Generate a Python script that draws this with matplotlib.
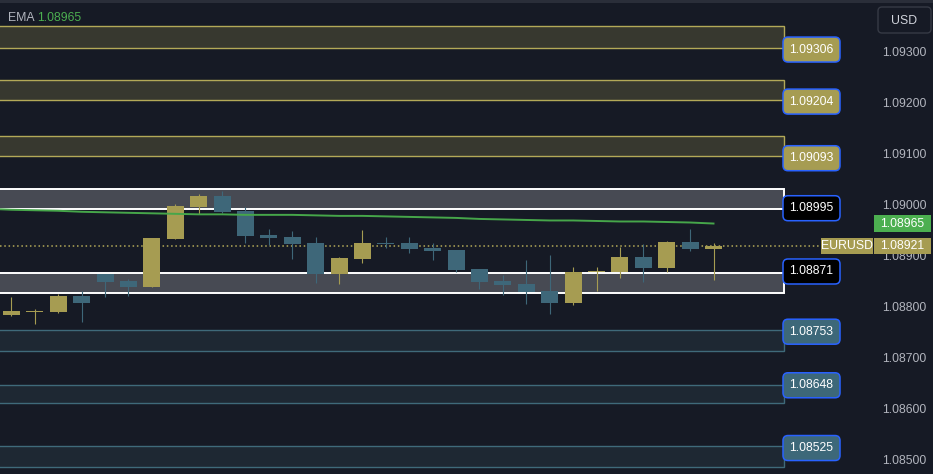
import matplotlib.pyplot as plt
from matplotlib.patches import Rectangle, FancyBboxPatch

# candle data
opens = [1.08786, 1.08792, 1.08792, 1.08823, 1.08866, 1.08852, 1.08841, 1.08935,
         1.08997, 1.09019, 1.08990, 1.08943, 1.08939, 1.08927, 1.08866, 1.08895,
         1.08927, 1.08927, 1.08917, 1.08913, 1.08876, 1.08852, 1.08846, 1.08833,
         1.08809, 1.08870, 1.08870, 1.08899, 1.08878, 1.08929, 1.08915]
highs = [1.08821, 1.08797, 1.08827, 1.08833, 1.08866, 1.08856, 1.08937, 1.09003,
         1.09023, 1.09029, 1.08997, 1.08954, 1.08950, 1.08939, 1.08899, 1.08952,
         1.08939, 1.08939, 1.08927, 1.08913, 1.08876, 1.08864, 1.08894, 1.08903,
         1.08880, 1.08880, 1.08919, 1.08925, 1.08931, 1.08954, 1.08927]
lows = [1.08784, 1.08768, 1.08790, 1.08772, 1.08821, 1.08823, 1.08841, 1.08935,
        1.08984, 1.08986, 1.08927, 1.08923, 1.08895, 1.08848, 1.08846, 1.08888,
        1.08917, 1.08907, 1.08894, 1.08870, 1.08837, 1.08825, 1.08807, 1.08788,
        1.08805, 1.08833, 1.08858, 1.08850, 1.08870, 1.08911, 1.08854]
closes = [1.08794, 1.08794, 1.08823, 1.08809, 1.08850, 1.08841, 1.08937, 1.08999,
          1.09019, 1.08988, 1.08941, 1.08937, 1.08925, 1.08866, 1.08897, 1.08927,
          1.08925, 1.08915, 1.08911, 1.08874, 1.08850, 1.08845, 1.08831, 1.08809,
          1.08870, 1.08872, 1.08899, 1.08878, 1.08929, 1.08915, 1.08921]

# EMA, first value is one bar before the visible window
ema = [1.08994, 1.08992, 1.08991, 1.08990, 1.08988, 1.08987, 1.08986, 1.08985,
       1.08984, 1.08983, 1.08983, 1.08982, 1.08982, 1.08982, 1.08981, 1.08980,
       1.08980, 1.08979, 1.08978, 1.08977, 1.08976, 1.08974, 1.08973, 1.08972,
       1.08971, 1.08971, 1.08970, 1.08969, 1.08969, 1.08968, 1.08967, 1.08965]

# zones: label price, lower edge, upper edge, kind
zone_labels = [1.09306, 1.09204, 1.09093, 1.08995, 1.08871, 1.08753, 1.08648, 1.08525]
zone_low = [1.09310, 1.09207, 1.09098, 1.08993, 1.08828, 1.08715, 1.08613, 1.08488]
zone_high = [1.09352, 1.09246, 1.09137, 1.09032, 1.08869, 1.08756, 1.08649, 1.08528]
zone_kind = ['res', 'res', 'res', 'box', 'box', 'sup', 'sup', 'sup']

price_ticks = [1.085, 1.086, 1.087, 1.088, 1.089, 1.090, 1.091, 1.092, 1.093]
last_price = closes[-1]
ema_last = ema[-1]
symbol = 'EURUSD'

W, H = 933, 474
BG = '#161a25'
YEL = '#a69c52'
BLU = '#3e6779'
TXT = '#b2b5be'
GRN = '#4caf50'
EDGE = '#2962ff'
FONT = 'Liberation Sans'

zone_style = {
    'res': dict(fc='#37382f', ec='#b3a958', box='#a69c52', txt='white'),
    'box': dict(fc='#474a53', ec='#ffffff', box='#000000', txt='white'),
    'sup': dict(fc='#1e2833', ec='#3f6a7a', box='#3d6879', txt='white'),
}

YMIN, YMAX = 1.084741, 1.094031
XMIN, XMAX = -0.491, 39.38

fig = plt.figure(figsize=(W / 100, H / 100), dpi=100)
fig.patch.set_facecolor(BG)
ax = fig.add_axes([0, 0, 1, 1])
ax.set_facecolor(BG)
ax.set_xlim(XMIN, XMAX)
ax.set_ylim(YMIN, YMAX)
ax.axis('off')

# overlay in pixel units for tags and boxes
ov = fig.add_axes([0, 0, 1, 1], zorder=5)
ov.set_xlim(0, W)
ov.set_ylim(H, 0)
ov.axis('off')
ov.patch.set_alpha(0)


def py(p):
    return (YMAX - p) / (YMAX - YMIN) * H


zone_end = 33.0
for lab, lo, hi, kind in zip(zone_labels, zone_low, zone_high, zone_kind):
    st = zone_style[kind]
    lw = 1.4 if kind == 'box' else 1.0
    ax.add_patch(Rectangle((XMIN - 1, lo), zone_end - XMIN + 1, hi - lo,
                           fc=st['fc'], ec=st['ec'], lw=lw, zorder=1))
    ov.add_patch(FancyBboxPatch((786, py(lab) - 9.5), 51, 19,
                                boxstyle='round,pad=3,rounding_size=5',
                                fc=st['box'], ec=EDGE, lw=1.1, zorder=3))
    ov.text(811.5, py(lab), f'{lab:.5f}', color=st['txt'], fontsize=8.8,
            family=FONT, ha='center', va='center', zorder=4)

# candles
xs = list(range(len(opens)))
cols = [YEL if c >= o else BLU for o, c in zip(opens, closes)]
ax.vlines(xs, lows, highs, colors=cols, lw=0.8, zorder=3)
ax.bar(xs, [c - o for o, c in zip(opens, closes)], bottom=opens, width=0.726,
       color=cols, lw=0, zorder=4)

# EMA
ax.plot(range(-1, len(ema) - 1), ema, color='#46a64a', lw=1.4, zorder=5)

# last price line
ax.hlines(last_price, XMIN, (821 - 11.5) / 23.4, colors='#b3a958', lw=1.1,
          linestyles=(0, (1, 1.8)), zorder=2)

# price axis
for t in price_ticks:
    ov.text(904, py(t), f'{t:.5f}', color=TXT, fontsize=8.8, family=FONT,
            ha='center', va='center', zorder=1)

# current price / EMA tags
ov.add_patch(Rectangle((874, py(ema_last) - 8.5), 57, 17, fc=GRN, lw=0, zorder=3))
ov.text(902.5, py(ema_last), f'{ema_last:.5f}', color='white', fontsize=8.8,
        family=FONT, ha='center', va='center', zorder=4)
ov.add_patch(Rectangle((821, py(last_price) - 8), 52, 16, fc=YEL, lw=0, zorder=3))
ov.text(847, py(last_price), symbol, color='white', fontsize=8.8, family=FONT,
        ha='center', va='center', zorder=4)
ov.add_patch(Rectangle((874, py(last_price) - 8), 57, 16, fc=YEL, lw=0, zorder=3))
ov.text(902.5, py(last_price), f'{last_price:.5f}', color='white', fontsize=8.8,
        family=FONT, ha='center', va='center', zorder=4)

# currency box
ov.add_patch(FancyBboxPatch((881, 10), 47, 20, boxstyle='round,pad=3,rounding_size=4',
                            fc=BG, ec='#363a45', lw=1.0, zorder=3))
ov.text(904.5, 20.5, 'USD', color='#d1d4dc', fontsize=8.8, family=FONT,
        ha='center', va='center', zorder=4)

# legend
ov.text(8, 17.5, 'EMA', color=TXT, fontsize=8.8, family=FONT, va='center')
ov.text(37, 17.5, f'{ema_last:.5f}', color=GRN, fontsize=8.8, family=FONT, va='center')

# top border strip
ov.add_patch(Rectangle((0, 0), W, 2.5, fc='#2a2e39', lw=0, zorder=6))

fig.savefig('out.png', dpi=100, facecolor=BG)
